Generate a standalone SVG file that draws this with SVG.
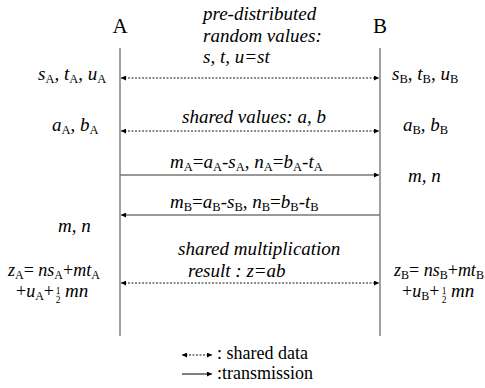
<svg xmlns="http://www.w3.org/2000/svg" width="485" height="388" viewBox="0 0 485 388" font-family="'Liberation Serif', 'DejaVu Serif', serif">
  <style>
    text { font-family: "Liberation Serif", "DejaVu Serif", serif; font-size: 19px; fill: #000; }
    .it { font-style: italic; }
    .sub { font-size: 12.5px; font-style: normal; }
    .eq { font-size: 18px; }
    .eq .sub { font-size: 12px; }
    .frac { font-size: 9.5px; font-style: normal; }
    .head { font-size: 21px; }
    .key { font-size: 18px; }
    .life { stroke: #808080; stroke-width: 1.5; fill: none; }
    .shared { stroke: #000; stroke-width: 0.9; stroke-dasharray: 2 1.5; fill: none; }
    .trans { stroke: #777; stroke-width: 1.3; fill: none; }
  </style>
  <defs>
    <marker id="ah" viewBox="0 0 10 10" refX="10" refY="5" markerWidth="7" markerHeight="5" markerUnits="userSpaceOnUse" orient="auto-start-reverse">
      <path d="M0,0 L10,5 L0,10 Z" fill="#000"/>
    </marker>
  </defs>

  <!-- party lifelines -->
  <g id="partyA">
    <text class="head" x="120" y="33" text-anchor="middle">A</text>
    <line class="life" x1="120" y1="48" x2="120" y2="336"/>
  </g>
  <g id="partyB">
    <text class="head" x="380" y="33" text-anchor="middle">B</text>
    <line class="life" x1="380" y1="48" x2="380" y2="336"/>
  </g>

  <!-- message connectors -->
  <g id="connectors">
    <line class="shared" x1="121" y1="78" x2="379" y2="78" marker-start="url(#ah)" marker-end="url(#ah)"/>
    <line class="shared" x1="121" y1="131" x2="379" y2="131" marker-start="url(#ah)" marker-end="url(#ah)"/>
    <line class="trans" x1="120" y1="175" x2="379" y2="175" marker-end="url(#ah)"/>
    <line class="trans" x1="380" y1="215" x2="121" y2="215" marker-end="url(#ah)"/>
    <line class="shared" x1="121" y1="283" x2="379" y2="283" marker-start="url(#ah)" marker-end="url(#ah)"/>
  </g>

  <!-- message labels -->
  <g id="label-predistributed">
    <text class="it" x="203" y="20">pre-distributed</text>
    <text class="it" x="203" y="42">random values:</text>
    <text class="it" x="203" y="63">s, t, u=st</text>
  </g>
  <g id="label-shared-values">
    <text class="it" x="182" y="123">shared values: a, b</text>
  </g>
  <g id="label-mA">
    <text x="170" y="168"><tspan class="it">m</tspan><tspan class="sub" dy="3">A</tspan><tspan dy="-3">=</tspan><tspan class="it">a</tspan><tspan class="sub" dy="3">A</tspan><tspan dy="-3">-</tspan><tspan class="it">s</tspan><tspan class="sub" dy="3">A</tspan><tspan dy="-3">, </tspan><tspan class="it">n</tspan><tspan class="sub" dy="3">A</tspan><tspan dy="-3">=</tspan><tspan class="it">b</tspan><tspan class="sub" dy="3">A</tspan><tspan dy="-3">-</tspan><tspan class="it">t</tspan><tspan class="sub" dy="3">A</tspan></text>
  </g>
  <g id="label-mB">
    <text x="170" y="208"><tspan class="it">m</tspan><tspan class="sub" dy="3">B</tspan><tspan dy="-3">=</tspan><tspan class="it">a</tspan><tspan class="sub" dy="3">B</tspan><tspan dy="-3">-</tspan><tspan class="it">s</tspan><tspan class="sub" dy="3">B</tspan><tspan dy="-3">, </tspan><tspan class="it">n</tspan><tspan class="sub" dy="3">B</tspan><tspan dy="-3">=</tspan><tspan class="it">b</tspan><tspan class="sub" dy="3">B</tspan><tspan dy="-3">-</tspan><tspan class="it">t</tspan><tspan class="sub" dy="3">B</tspan></text>
  </g>
  <g id="label-product">
    <text class="it" x="178" y="255">shared multiplication</text>
    <text class="it" x="188" y="277">result : z=ab</text>
  </g>

  <!-- values held by A -->
  <g id="valuesA">
    <text x="38" y="80"><tspan class="it">s</tspan><tspan class="sub" dy="3">A</tspan><tspan dy="-3">, </tspan><tspan class="it">t</tspan><tspan class="sub" dy="3">A</tspan><tspan dy="-3">, </tspan><tspan class="it">u</tspan><tspan class="sub" dy="3">A</tspan></text>
    <text x="52" y="131"><tspan class="it">a</tspan><tspan class="sub" dy="3">A</tspan><tspan dy="-3">, </tspan><tspan class="it">b</tspan><tspan class="sub" dy="3">A</tspan></text>
    <text class="it" x="58" y="232">m, n</text>
    <text class="eq" x="8" y="276"><tspan class="it">z</tspan><tspan class="sub" dy="2.5">A</tspan><tspan dy="-2.5">= </tspan><tspan class="it">ns</tspan><tspan class="sub" dy="2.5">A</tspan><tspan dy="-2.5">+</tspan><tspan class="it">mt</tspan><tspan class="sub" dy="2.5">A</tspan></text>
    <text class="eq" x="16" y="297" font-size="17"><tspan>+</tspan><tspan class="it">u</tspan><tspan class="sub" dy="2.5">A</tspan><tspan dy="-2.5">+</tspan></text>
    <text class="frac" x="58" y="293.5" text-anchor="middle">1</text>
    <line x1="55.5" y1="295" x2="60.5" y2="295" stroke="#bbb" stroke-width="0.6"/>
    <text class="frac" x="58" y="302.5" text-anchor="middle">2</text>
    <text class="it" x="65" y="297">mn</text>
  </g>

  <!-- values held by B -->
  <g id="valuesB">
    <text x="392" y="80"><tspan class="it">s</tspan><tspan class="sub" dy="3">B</tspan><tspan dy="-3">, </tspan><tspan class="it">t</tspan><tspan class="sub" dy="3">B</tspan><tspan dy="-3">, </tspan><tspan class="it">u</tspan><tspan class="sub" dy="3">B</tspan></text>
    <text x="403" y="131"><tspan class="it">a</tspan><tspan class="sub" dy="3">B</tspan><tspan dy="-3">, </tspan><tspan class="it">b</tspan><tspan class="sub" dy="3">B</tspan></text>
    <text class="it" x="408" y="182">m, n</text>
    <text class="eq" x="394" y="276"><tspan class="it">z</tspan><tspan class="sub" dy="2.5">B</tspan><tspan dy="-2.5">= </tspan><tspan class="it">ns</tspan><tspan class="sub" dy="2.5">B</tspan><tspan dy="-2.5">+</tspan><tspan class="it">mt</tspan><tspan class="sub" dy="2.5">B</tspan></text>
    <text class="eq" x="402" y="297" font-size="17"><tspan>+</tspan><tspan class="it">u</tspan><tspan class="sub" dy="2.5">B</tspan><tspan dy="-2.5">+</tspan></text>
    <text class="frac" x="444" y="293.5" text-anchor="middle">1</text>
    <line x1="441.5" y1="295" x2="446.5" y2="295" stroke="#bbb" stroke-width="0.6"/>
    <text class="frac" x="444" y="302.5" text-anchor="middle">2</text>
    <text class="it" x="451" y="297">mn</text>
  </g>

  <!-- legend -->
  <g id="legend">
    <line class="shared" x1="182" y1="355" x2="212" y2="355" marker-start="url(#ah)" marker-end="url(#ah)"/>
    <text class="key" x="217" y="359">: shared data</text>
    <line stroke="#000" stroke-width="1" x1="182" y1="374" x2="212" y2="374" marker-end="url(#ah)"/>
    <text class="key" x="217" y="379">:transmission</text>
  </g>
</svg>
